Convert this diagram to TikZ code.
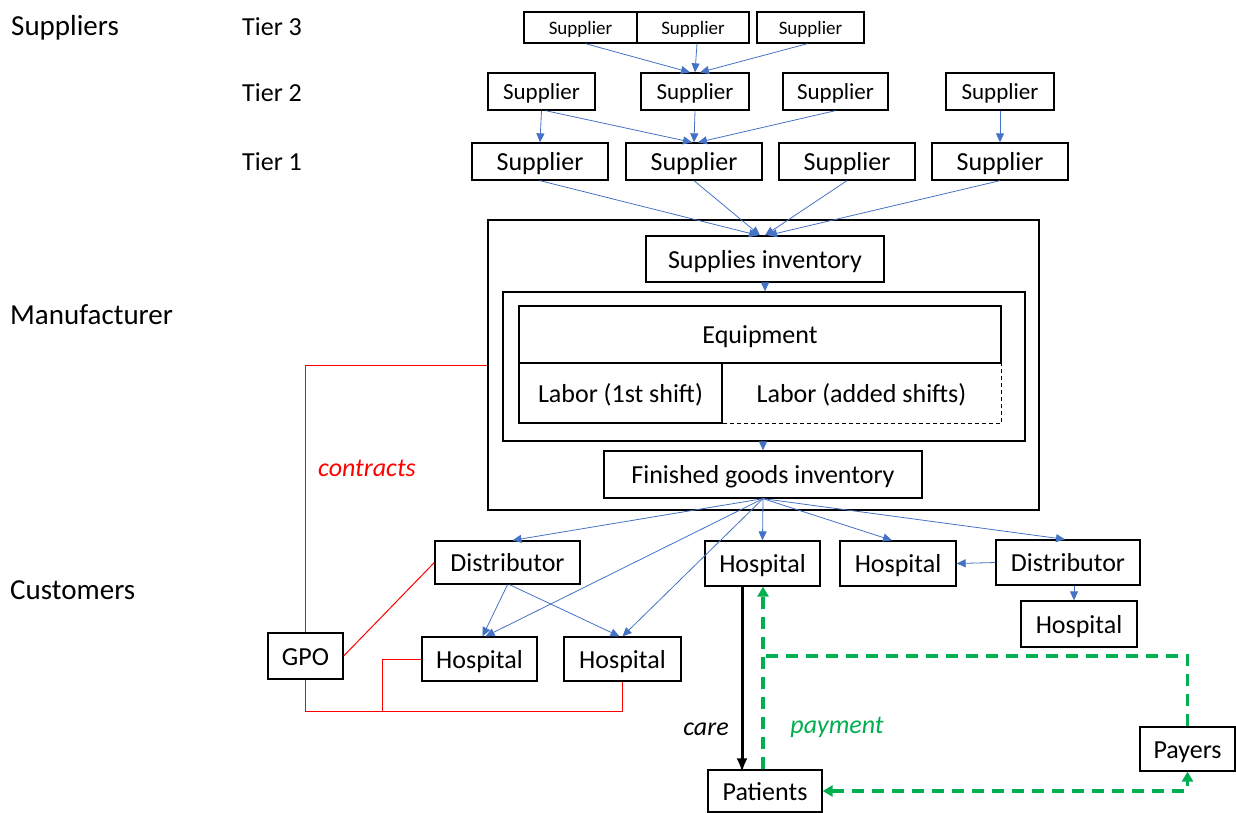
\documentclass[tikz,border=0pt]{standalone}
\usepackage{fontspec}
\setmainfont{Carlito}
\usetikzlibrary{arrows.meta}
\definecolor{bl}{HTML}{4472C4}
\definecolor{gr}{HTML}{00B050}
\begin{document}
\begin{tikzpicture}[x=1pt,y=-1pt,
  box/.style={draw=black, line width=1.3pt, inner sep=0pt, font=\fontsize{26}{30}\selectfont, text height=23pt, text depth=5pt},
  tthree/.style={box, font=\fontsize{19}{22}\selectfont, text height=17pt, text depth=4pt, minimum height=31pt},
  ttwo/.style={box, font=\fontsize{23}{27}\selectfont, text height=20pt, text depth=4.5pt, minimum height=37pt},
  tone/.style={box, minimum width=136pt, minimum height=37pt},
  lbl/.style={inner sep=0pt, anchor=west, font=\fontsize{26}{30}\selectfont},
  head/.style={inner sep=0pt, anchor=west, font=\fontsize{29}{34}\selectfont},
  ba/.style={draw=bl, line width=0.8pt, -{Triangle[length=9pt,width=8pt]}},
  rl/.style={draw=red, line width=1pt},
  gl/.style={draw=gr, line width=3.5pt, dash pattern=on 12pt off 8pt},
  gtip/.style={-{Triangle[length=10pt,width=11pt]}}
]
\useasboundingbox (0,0) rectangle (1236,812);

% headings
\node[head] (hsup) at (11,28) {Suppliers};
\node[head] (hman) at (10,315) {Manufacturer};
\node[head] (hcus) at (10,590) {Customers};
\node[lbl] (t3) at (242,27) {Tier 3};
\node[lbl] (t2) at (242,93) {Tier 2};
\node[lbl] (t1) at (242,162) {Tier 1};

% tier 3
\node[tthree, minimum width=113pt] (s3a) at (580.5,27.5) {Supplier};
\node[tthree, minimum width=112pt] (s3b) at (693,27.5) {Supplier};
\node[tthree, minimum width=107pt] (s3c) at (810.5,27.5) {Supplier};
% tier 2
\node[ttwo, minimum width=107pt] (s2a) at (541.5,91.5) {Supplier};
\node[ttwo, minimum width=108pt] (s2b) at (695,91.5) {Supplier};
\node[ttwo, minimum width=105pt] (s2c) at (835.5,91.5) {Supplier};
\node[ttwo, minimum width=108pt] (s2d) at (1000,91.5) {Supplier};
% tier 1
\node[tone] (s1a) at (540,161.5) {Supplier};
\node[tone] (s1b) at (694,161.5) {Supplier};
\node[tone] (s1c) at (847,161.5) {Supplier};
\node[tone] (s1d) at (1000,161.5) {Supplier};

% manufacturer
\node[box, minimum width=551pt, minimum height=290pt] (mfg) at (763.5,365) {};
\node[box, minimum width=238pt, minimum height=46pt] (supinv) at (765,259) {Supplies inventory};
\node[box, minimum width=522pt, minimum height=149pt] (inner) at (764,366.5) {};
\node[box, minimum width=482pt, minimum height=57pt] (equip) at (760,334.5) {Equipment};
\node[box, minimum width=203pt, minimum height=60pt] (lab1) at (620.5,393) {Labor (1st shift)};
\node[box, draw=none, minimum width=279pt, minimum height=60pt] (lab2) at (861.5,393) {Labor (added shifts)};
\draw[line width=1.1pt, dash pattern=on 4pt off 3pt] (lab2.north west) -- (lab2.south west) -- (lab2.south east) -- (lab2.north east);
\draw[line width=1.3pt] (equip.south west) -- (equip.south east);
\node[box, minimum width=318pt, minimum height=47pt] (fg) at (763,474.5) {Finished goods inventory};

% customers
\node[box, minimum width=145pt, minimum height=43pt] (distL) at (507.5,562.5) {Distributor};
\node[box, minimum width=75pt, minimum height=46pt] (gpo) at (305.5,656) {GPO};
\node[box, minimum width=115pt, minimum height=44pt] (hospL1) at (479.5,659) {Hospital};
\node[box, minimum width=117pt, minimum height=44pt] (hospL2) at (622.5,659) {Hospital};
\node[box, minimum width=115pt, minimum height=45pt] (hospM) at (762.5,563.5) {Hospital};
\node[box, minimum width=116pt, minimum height=45pt] (hospM2) at (898,563.5) {Hospital};
\node[box, minimum width=144pt, minimum height=45pt] (distR) at (1068,562.5) {Distributor};
\node[box, minimum width=116pt, minimum height=46pt] (hospR) at (1079,624) {Hospital};
\node[box, minimum width=95pt, minimum height=44pt] (payers) at (1187.5,749) {Payers};
\node[box, minimum width=114pt, minimum height=42pt] (patients) at (765,791) {Patients};

% tier 3 -> tier 2
\draw[ba] ([xshift=5pt]s3a.south) -- ([xshift=-5pt]s2b.north);
\draw[ba] ([xshift=4pt]s3b.south) -- (s2b.north);
\draw[ba] ([xshift=-3pt]s3c.south) -- ([xshift=5pt]s2b.north);
% tier 2 -> tier 1
\draw[ba] (s2a.south) -- (s1a.north);
\draw[ba] ([xshift=4pt]s2a.south) -- ([xshift=-2pt]s1b.north);
\draw[ba] (s2b.south) -- (s1b.north);
\draw[ba] (s2c.south) -- ([xshift=4pt]s1b.north);
\draw[ba] (s2d.south) -- (s1d.north);
% tier 1 -> supplies inventory
\draw[ba] (s1a.south) -- ([xshift=-7pt]supinv.north);
\draw[ba] (s1b.south) -- ([xshift=-5pt]supinv.north);
\draw[ba] (s1c.south) -- ([xshift=0pt]supinv.north);
\draw[ba] (s1d.south) -- ([xshift=3pt]supinv.north);
% internal flow
\draw[ba] (supinv.south) -- (supinv.south |- inner.north);
\draw[ba] (fg.north |- inner.south) -- (fg.north);

% finished goods -> customers
\draw[ba] (fg.south) -- ([xshift=5pt]distL.north);
\draw[ba] (fg.south) -- ([xshift=6pt]hospL1.north);
\draw[ba] (fg.south) -- (hospL2.north);
\draw[ba] (fg.south) -- (hospM.north);
\draw[ba] (fg.south) -- ([xshift=-6pt]hospM2.north);
\draw[ba] (fg.south) -- ([xshift=-3pt]distR.north);
\draw[ba] (distL.south) -- ([xshift=3pt]hospL1.north);
\draw[ba] ([xshift=2pt]distL.south) -- ([xshift=-3pt]hospL2.north);
\draw[ba] (distR.west) -- (hospM2.east);
\draw[ba] ([xshift=6pt]distR.south) -- ([xshift=-5pt]hospR.north);

% contracts (red)
\coordinate (redy) at (0,711);
\coordinate (rj) at (382,711);
\draw[rl] (gpo.north) |- (mfg.west);
\draw[rl] (gpo.east) -- (distL.west);
\draw[rl] (gpo.south) |- (hospL2.south |- redy) -- (hospL2.south);
\draw[rl] (hospL1.west) -| (rj);
\node[font=\fontsize{26}{30}\selectfont\itshape, text=red, inner sep=0pt] (contracts) at (367,468) {contracts};

% care
\coordinate (carex) at (742,0);
\draw[line width=3pt, -{Latex[length=14pt,width=11pt]}] (hospM.south -| carex) -- ([yshift=-3pt]patients.north -| carex);
\node[font=\fontsize{26}{30}\selectfont\itshape, inner sep=0pt] (care) at (706,729) {care};

% payment (green)
\coordinate (gx) at (763,0);
\coordinate (gtop) at (763,656);
\draw[gl, gtip] (patients.north -| gx) -- (hospM.south -| gx);
\draw[gl] (payers.north) |- (gtop);
\draw[gl, {Triangle[length=10pt,width=11pt]}-{Triangle[length=10pt,width=11pt]}] (patients.east) -| (payers.south);
\node[font=\fontsize{26}{30}\selectfont\itshape, text=gr, inner sep=0pt] (payment) at (837,727) {payment};
\end{tikzpicture}
\end{document}
